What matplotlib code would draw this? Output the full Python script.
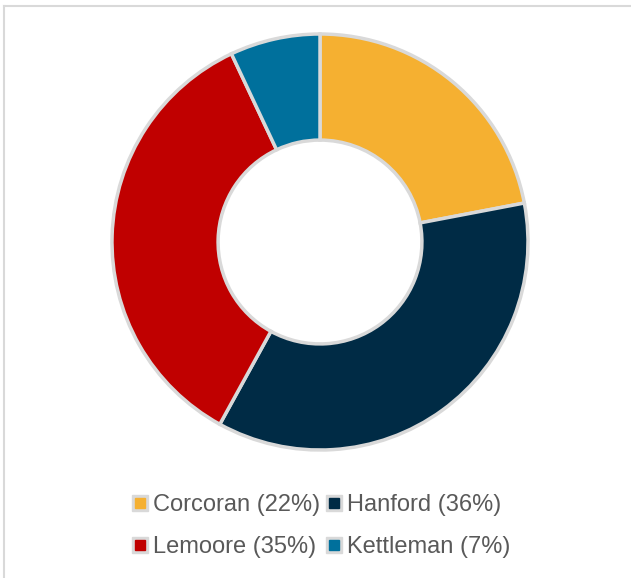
import matplotlib
matplotlib.use("Agg")
import matplotlib.pyplot as plt
from matplotlib.lines import Line2D
from matplotlib.legend_handler import HandlerTuple

categories = ["Corcoran", "Hanford", "Lemoore", "Kettleman"]
values = [22, 36, 35, 7]
colors = ["#F5B031", "#002B45", "#C00000", "#00709C"]
labels = [f"{c} ({v}%)" for c, v in zip(categories, values)]

W, H = 631, 578
fig = plt.figure(figsize=(W / 100, H / 100), dpi=100)
fig.patch.set_facecolor("white")

# Border lines (top and left)
fig.add_artist(Line2D([4 / W, 4 / W], [0, 1 - 6 / H], transform=fig.transFigure,
                      color="#d9d9d9", lw=1.5))
fig.add_artist(Line2D([4 / W, 1], [1 - 6 / H, 1 - 6 / H], transform=fig.transFigure,
                      color="#d9d9d9", lw=1.5))

cx, cy, r = 320, 242, 208
ax = fig.add_axes([(cx - r) / W, (H - cy - r) / H, 2 * r / W, 2 * r / H])
wedges, _ = ax.pie(values, colors=colors, startangle=90, counterclock=False,
                   radius=1.0,
                   wedgeprops=dict(width=0.51, edgecolor="#d9d9d9", linewidth=2.5))
ax.set_xlim(-1.0, 1.0)
ax.set_ylim(-1.0, 1.0)
ax.set_aspect("equal")
ax.axis("off")

handles = []
for c in colors:
    bg = Line2D([], [], marker="s", ls="", markersize=11, markerfacecolor="#d9d9d9",
                markeredgecolor="#d9d9d9")
    fg = Line2D([], [], marker="s", ls="", markersize=6.5, markerfacecolor=c,
                markeredgecolor=c)
    handles.append((bg, fg))

# legend filled column-wise: row-major display order
order = [0, 2, 1, 3]
leg = fig.legend([handles[i] for i in order], [labels[i] for i in order],
                 ncol=2, loc="center",
                 bbox_to_anchor=(322 / W, 1 - 526 / H),
                 frameon=False, handler_map={tuple: HandlerTuple(ndivide=1, pad=0)},
                 handlelength=0.6, handletextpad=0.25, columnspacing=0.3,
                 labelspacing=0.85,
                 prop=dict(family="Liberation Sans", size=17))
for t in leg.get_texts():
    t.set_color("#595959")

fig.savefig("out.png", dpi=100, facecolor="white")
